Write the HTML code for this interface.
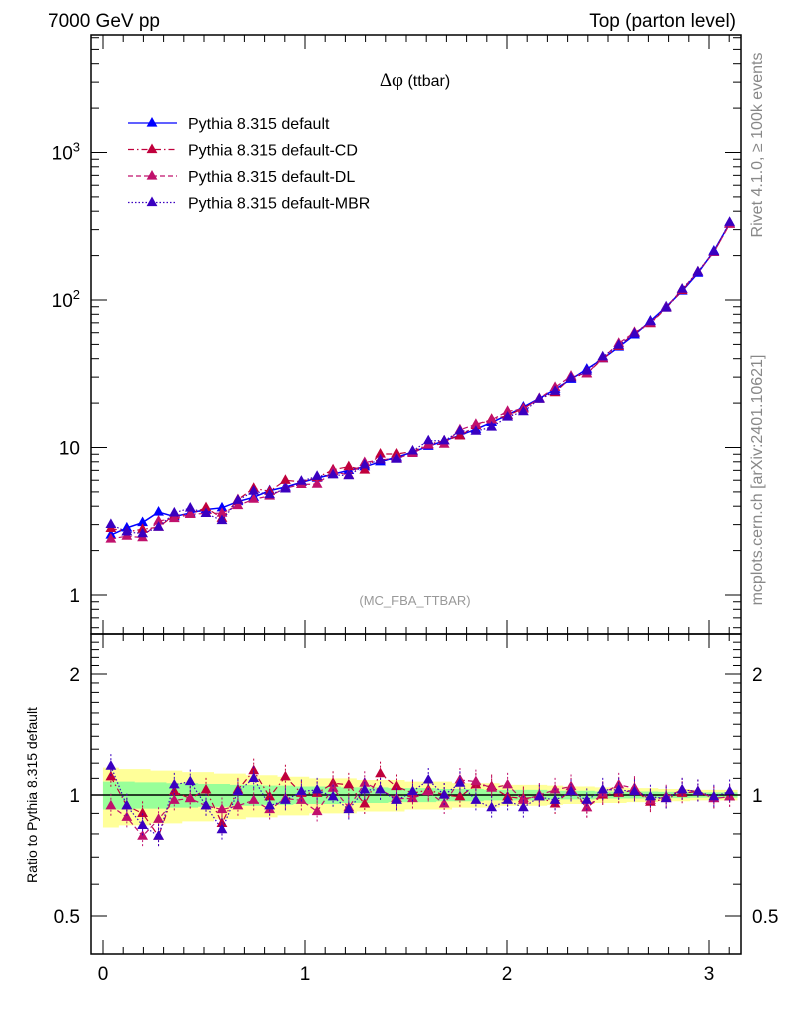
<!DOCTYPE html>
<html><head><meta charset="utf-8"><style>
body{margin:0;background:#fff;}
svg{display:block;font-family:"Liberation Sans",sans-serif;}
</style></head><body>
<svg id="chart" width="786" height="1024" viewBox="0 0 786 1024">
<text x="48" y="27" font-size="19">7000 GeV pp</text>
<text x="736" y="27" font-size="19" text-anchor="end">Top (parton level)</text>
<text x="415" y="86" font-size="16" text-anchor="middle"><tspan font-family="Liberation Serif" font-size="19">Δφ</tspan> (ttbar)</text>
<text x="415" y="605" font-size="13" fill="#999" text-anchor="middle">(MC_FBA_TTBAR)</text>
<text transform="translate(762,145) rotate(-90)" font-size="16" fill="#888" text-anchor="middle">Rivet 4.1.0, ≥ 100k events</text>
<text transform="translate(762,480) rotate(-90)" font-size="16" fill="#888" text-anchor="middle">mcplots.cern.ch [arXiv:2401.10621]</text>
<text transform="translate(37,795) rotate(-90)" font-size="14" text-anchor="middle">Ratio to Pythia 8.315 default</text>
<g id="bands"></g><g id="marks"></g><g id="axes"></g><g id="legend"></g>
</svg>
<script>
const binCenters=[0.039,0.118,0.196,0.275,0.353,0.432,0.51,0.589,0.668,0.746,0.825,0.903,0.982,1.06,1.139,1.217,1.296,1.374,1.453,1.532,1.61,1.689,1.767,1.846,1.924,2.003,2.081,2.16,2.238,2.317,2.395,2.474,2.553,2.631,2.71,2.788,2.867,2.945,3.024,3.102];
const defaultVals=[2.55,2.85,3.1,3.65,3.4,3.6,3.8,3.9,4.3,4.6,5.1,5.4,5.8,6.2,6.6,7.0,7.4,8.0,8.6,9.3,10.2,11.1,12.1,13.3,14.8,16.6,18.8,21.5,24.8,29,34,40,48,58,72,90,115,152,215,330];
const ratioCD=[1.11,0.94,0.90,0.79,1.02,0.98,1.03,0.85,1.03,1.15,0.99,1.11,1.01,1.01,1.07,1.06,0.95,1.13,1.05,1.01,1.03,1.0,0.99,1.06,1.05,0.99,0.98,0.99,0.95,1.03,0.93,1.0,1.01,1.03,0.96,0.98,1.01,1.02,0.98,0.99];
const ratioDL=[0.94,0.88,0.79,0.87,0.97,0.98,0.94,0.92,0.94,0.97,0.92,0.98,0.97,0.91,1.04,0.93,1.07,1.03,0.98,0.98,1.02,0.95,1.09,1.08,1.04,1.06,0.97,1.0,1.03,1.05,0.93,1.01,1.06,1.04,0.97,0.99,1.03,1.02,0.98,0.99];
const ratioMBR=[1.18,0.94,0.84,0.79,1.06,1.08,0.94,0.82,1.02,1.10,0.94,0.97,1.02,1.03,0.99,0.92,1.03,1.03,0.97,1.02,1.09,1.0,1.07,0.97,0.93,0.97,0.93,0.99,0.97,1.02,0.97,1.03,1.03,1.02,0.99,0.98,1.03,1.02,0.99,1.02];
const yellowErr=[0.17,0.16,0.16,0.15,0.15,0.14,0.14,0.13,0.13,0.12,0.12,0.11,0.11,0.10,0.10,0.10,0.09,0.09,0.09,0.08,0.08,0.08,0.07,0.07,0.07,0.06,0.06,0.06,0.055,0.05,0.05,0.045,0.045,0.04,0.04,0.035,0.035,0.03,0.03,0.03];
const greenErr=[0.08,0.08,0.075,0.075,0.07,0.07,0.065,0.065,0.06,0.06,0.055,0.055,0.05,0.05,0.05,0.045,0.045,0.045,0.04,0.04,0.04,0.035,0.035,0.035,0.03,0.03,0.03,0.03,0.025,0.025,0.025,0.02,0.02,0.02,0.02,0.018,0.018,0.015,0.015,0.015];
const xTicks=[0,1,2,3];
const mainTicks=[1,10,100,1000];
const mainTickLabels=["1","10","10²","10³"];
const ratioTicks=[0.5,1,2];
const ratioTickLabels=["0.5","1","2"];

const L=91,R=741,T=35,M=634,B=954;
const X=v=>103+v*202;
const Ym=v=>595-Math.log10(v)*147.5;
const Yr=v=>795-Math.log2(v)*121;
const NS="http://www.w3.org/2000/svg";
function mk(tag,attrs,parent){const e=document.createElementNS(NS,tag);for(const k in attrs)e.setAttribute(k,attrs[k]);parent.appendChild(e);return e;}
const bands=document.getElementById('bands'),marks=document.getElementById('marks'),axes=document.getElementById('axes'),legend=document.getElementById('legend');
const hw=Math.PI/80;
function bandPath(err){let up='',dn='';binCenters.forEach((c,i)=>{const x1=X(c-hw),x2=X(c+hw);up+=`L${x1},${Yr(1+err[i])}L${x2},${Yr(1+err[i])}`;});for(let i=binCenters.length-1;i>=0;i--){const c=binCenters[i];dn+=`L${X(c+hw)},${Yr(1-err[i])}L${X(c-hw)},${Yr(1-err[i])}`;}return 'M'+up.slice(1)+dn+'Z';}
const yb=mk('path',{d:bandPath(yellowErr),fill:'#ffff99'},bands);


const gb=mk('path',{d:bandPath(greenErr),fill:'#99ff99'},bands);


const one=mk('line',{x1:L,x2:R,y1:Yr(1),y2:Yr(1),stroke:'#000','stroke-width':1.5},bands);



const series=[
 {name:'default',color:'#0000ff',dash:'',vals:defaultVals.map(v=>1)},
 {name:'default-cd',color:'#c0003c',dash:'6,3,1.5,3',vals:ratioCD},
 {name:'default-dl',color:'#c0106c',dash:'5,3',vals:ratioDL},
 {name:'default-mbr',color:'#3a00c0',dash:'1.5,2',vals:ratioMBR}];
function tri(x,y,s){return `M${x},${y-s}L${x+s*0.9},${y+s*0.6}L${x-s*0.9},${y+s*0.6}Z`;}
series.forEach((s,si)=>{
 const g=mk('g',{},marks);
 
 
 const mainPts=binCenters.map((c,i)=>[X(c),Ym(defaultVals[i]*s.vals[i])]);
 const ratPts=binCenters.map((c,i)=>[X(c),Yr(s.vals[i])]);
 const panels=si==0?[[mainPts,'main']]:[[mainPts,'main'],[ratPts,'ratio']];
 panels.forEach(([pts,p])=>{
  const pl=mk('polyline',{points:pts.map(q=>q.join(',')).join(' '),fill:'none',stroke:s.color,'stroke-width':si==0?1.5:1.2,'stroke-dasharray':s.dash},g);
  
  
  pts.forEach((q,i)=>{
   if(p=='ratio'){const e=mk('line',{x1:q[0],x2:q[0],y1:q[1]-12,y2:q[1]+12,stroke:s.color,'stroke-width':1,'stroke-dasharray':'2,2'},g);
    
    }
   const m=mk('path',{d:tri(q[0],q[1],6),fill:s.color},g);
   
   
  });
 });
});
[[T,M],[M,B]].forEach(([t,b],k)=>{const r=mk('rect',{x:L,y:t,width:R-L,height:b-t,fill:'none',stroke:'#000','stroke-width':1.5},axes);
 
 });
function tk(x1,y1,x2,y2){const l=mk('line',{x1,y1,x2,y2,stroke:'#000','stroke-width':1},axes);
 
 }
for(let i=0;i<=32;i++){const v=i/10,x=X(v);if(x>R)break;const len=i%10==0?14:7;[[B,-1],[M,-1],[M,1],[T,1]].forEach(([y,d])=>tk(x,y,x,y+d*len));}
xTicks.forEach(v=>{const t=mk('text',{x:X(v),y:980,'font-size':19,'text-anchor':'middle'},axes);t.textContent=v;
 
 });
for(let d=-1;d<=3;d++)for(let m=1;m<=9;m++){const v=m*Math.pow(10,d),y=Ym(v);if(y<T||y>M)continue;const len=m==1?16:8;tk(L,y,L+len,y);tk(R,y,R-len,y);}
mainTicks.forEach((v,i)=>{const t=mk('text',{x:80,y:Ym(v)+7,'font-size':19,'text-anchor':'end'},axes);
 if(v>=100){t.textContent='10';const s=mk('tspan',{dy:-8,'font-size':13},t);s.textContent=v==100?'2':'3';}else t.textContent=mainTickLabels[i];
 
 });
[0.5,0.6,0.7,0.8,0.9,1,1.1,1.2,1.3,1.4,1.5,1.6,1.7,1.8,1.9,2,2.1,2.2,2.3,2.4].forEach(v=>{const y=Yr(v);if(y<M||y>B)return;const len=(v==0.5||v==1||v==2)?16:8;tk(L,y,L+len,y);tk(R,y,R-len,y);});
ratioTicks.forEach((v,i)=>{[[80,'end'],[752,'start']].forEach(([x,a])=>{const t=mk('text',{x,y:Yr(v)+7,'font-size':19,'text-anchor':a},axes);t.textContent=ratioTickLabels[i];
 
 });});
const legNames=['Pythia 8.315 default','Pythia 8.315 default-CD','Pythia 8.315 default-DL','Pythia 8.315 default-MBR'];
series.forEach((s,i)=>{const y=123+i*26.5;const g=mk('g',{},legend);
 
 
 mk('line',{x1:128,x2:177,y1:y,y2:y,stroke:s.color,'stroke-width':1.3,'stroke-dasharray':s.dash},g);
 mk('path',{d:tri(152,y,6),fill:s.color},g);
 const t=mk('text',{x:188,y:y+6,'font-size':16},g);t.textContent=legNames[i];});
</script>
</body></html>
